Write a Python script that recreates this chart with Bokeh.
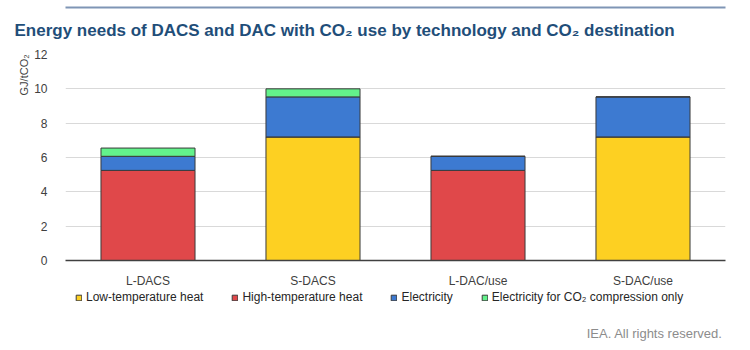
from bokeh.plotting import figure
from bokeh.models import (ColumnDataSource, Legend, LegendItem, Title, CategoricalAxis,
                          Label, Range1d)
from bokeh.layouts import column
from bokeh.embed import file_html
from bokeh.resources import INLINE

categories = ["L-DACS", "S-DACS", "L-DAC/use", "S-DAC/use"]
low_temp = [0, 7.2, 0, 7.2]
high_temp = [5.25, 0, 5.25, 0]
electricity = [0.82, 2.33, 0.82, 2.33]
compression = [0.48, 0.47, 0, 0]
series_names = ["Low-temperature heat", "High-temperature heat", "Electricity",
                "Electricity for CO\u2082 compression only"]
y_ticks = [0, 2, 4, 6, 8, 10, 12]

colors = ["#FDD022", "#E0484A", "#3D7AD1", "#63F28B"]
keys = ["low", "high", "elec", "comp"]

src = ColumnDataSource(dict(cat=categories, low=low_temp, high=high_temp,
                            elec=electricity, comp=compression))

FONT = "Liberation Sans"

# ---------------- main chart ----------------
p = figure(x_range=categories, y_range=(0, 12), width=750, height=290, title=None,
           output_backend="svg", toolbar_location=None,
           min_border_left=65, min_border_right=25, min_border_top=54, min_border_bottom=27)
p.outline_line_color = None
p.background_fill_color = "white"
p.border_fill_color = "white"

p.vbar_stack(keys, x="cat", width=0.57, color=colors, line_color="#3a3a3a",
             line_width=1, source=src)

p.xgrid.grid_line_color = None
p.ygrid.grid_line_color = "#d9d9d9"
p.ygrid.grid_line_width = 1
p.yaxis.ticker = y_ticks
p.yaxis.axis_line_color = None
p.yaxis.major_tick_line_color = None
p.yaxis.minor_tick_line_color = None
p.yaxis.major_label_text_font = FONT
p.yaxis.major_label_text_font_size = "12px"
p.yaxis.major_label_text_color = "#404040"
p.yaxis.major_label_standoff = 12
p.xaxis.axis_line_color = "#404040"
p.xaxis.axis_line_width = 1.5
p.xaxis.major_tick_line_color = None
p.xaxis.minor_tick_line_color = None
p.xaxis.major_label_text_font = FONT
p.xaxis.major_label_text_font_size = "12px"
p.xaxis.major_label_text_color = "#404040"
p.xaxis.major_label_standoff = 7

# main title
p.add_layout(Title(text="Energy needs of DACS and DAC with CO\u2082 use by technology and CO\u2082 destination",
                   align="left", offset=-51, vertical_align="top", text_font=FONT,
                   text_font_size="17px", text_font_style="bold", text_color="#1F4E79",
                   standoff=26), "above")

# thin rule at the very top (an unlabeled axis)
rule = CategoricalAxis(axis_line_color="#7f95b5",
                       axis_line_width=2, major_tick_line_color=None, minor_tick_line_color=None,
                       major_label_text_font_size="1px", major_label_text_alpha=0,
                       major_label_standoff=0)
p.add_layout(rule, "above")

# y axis unit label
p.add_layout(Title(text="GJ/tCO\u2082", align="right", offset=0,
                   text_font=FONT, text_font_size="11px", text_font_style="normal",
                   text_color="#404040", standoff=4), "left")

# ---------------- legend + footnote strip ----------------
p2 = figure(x_range=categories, y_range=Range1d(100, 101), width=750, height=60,
            output_backend="svg", toolbar_location=None, title=None,
            x_axis_location=None, y_axis_location=None,
            min_border_left=0, min_border_right=0, min_border_top=0, min_border_bottom=0)
p2.outline_line_color = None
p2.grid.visible = False
p2.background_fill_color = "white"
p2.border_fill_color = "white"

leg_renderers = p2.vbar_stack(keys, x="cat", width=0.57, color=colors, line_color="#3a3a3a",
                              line_width=1, source=src)
items = [LegendItem(label=series_names[i], renderers=[leg_renderers[i]]) for i in range(4)]
legend = Legend(items=items, orientation="horizontal", location=(10, 46),
                glyph_width=7, glyph_height=7, label_standoff=4, spacing=28,
                padding=0, margin=0, border_line_color=None, background_fill_alpha=0,
                label_text_font=FONT, label_text_font_size="12px", label_text_color="#262626",
                label_height=12)
p2.add_layout(legend, "center")

p2.add_layout(Label(x=657, y=17, x_units="screen", y_units="screen",
                    text="IEA. All rights reserved.", text_font=FONT, text_font_size="13px",
                    text_color="#8c8c8c", text_align="right", text_baseline="middle"))

layout = column(p, p2, spacing=0)
open("out.html", "w").write(file_html(layout, INLINE))
